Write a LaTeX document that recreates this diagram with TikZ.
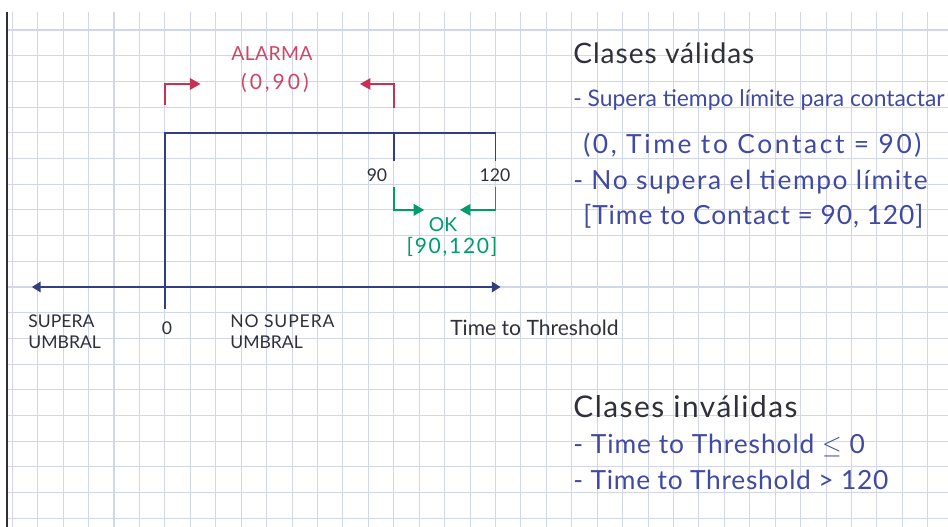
\documentclass[tikz,border=0pt]{standalone}
\usepackage{fontspec}
\setmainfont{Lato}
\usepackage{tikz}
\usetikzlibrary{arrows.meta}
\definecolor{gridink}{RGB}{210,214,234}
\definecolor{axisink}{RGB}{52,60,130}
\definecolor{alarmink}{RGB}{198,50,84}
\definecolor{okink}{RGB}{0,156,108}
\definecolor{noteink}{RGB}{64,74,162}
\definecolor{pencil}{RGB}{48,48,58}
\newcommand{\hand}[2][0]{\fontsize{#2}{#2}\selectfont\addfontfeature{LetterSpace=#1}}

\tikzset{
  gridline/.style={gridink,line width=0.6pt},
  axisline/.style={axisink,line width=1pt},
  alarmarrow/.style={alarmink,line width=1.1pt,-{Triangle[length=6pt,width=6.5pt]}},
  okarrow/.style={okink,line width=1.1pt,-{Triangle[length=6pt,width=6.5pt]}},
  pencillabel/.style={pencil,inner sep=0pt},
  notelabel/.style={noteink,inner sep=0pt,anchor=west}
}

\begin{document}
\begin{tikzpicture}[x=0.5086cm,y=0.514cm]

\useasboundingbox (-0.484,1.167) rectangle (36.796,-19.339);
\fill[white] (-0.484,1.167) rectangle (36.796,-19.339);
\foreach \x in {0,...,36} \draw[gridline] (\x,0.7) -- (\x,-19.339);
\foreach \y in {0,...,19} \draw[gridline] (-0.21,-\y) -- (36.796,-\y);
\draw[pencil,line width=1.3pt] (-0.21,0.7) -- (-0.21,-19.339);

\coordinate (axl) at (0.77,-10);
\coordinate (axr) at (19.2,-10);
\coordinate (t0) at (6,-4);
\coordinate (t0b) at (6,-10.85);
\coordinate (t90) at (15,-4);
\coordinate (t90b) at (15,-5.1);
\coordinate (t120) at (19,-4);
\coordinate (t120b) at (19,-5.1);
\draw[axisline,{Triangle[length=5pt,width=6pt]}-{Triangle[length=5pt,width=6pt]}] (axl) -- (axr);
\draw[axisline] (t0b) -- (t0) -- (t120) -- (t120b);
\draw[axisline] (t90) -- (t90b);

\node[pencillabel] (n90) at (14.34,-5.64) {\hand{10}90};
\node[pencillabel] (n120) at (18.98,-5.64) {\hand{10}120};

\node[alarmink!90,inner sep=0pt] (alarma) at (10.21,-0.93) {\hand[2]{11}ALARMA};
\node[alarmink!90,inner sep=0pt] (alarmarange) at (10.33,-2.06) {\hand[14]{12}(0,90)};
\coordinate (a0) at (6,-2.9);
\coordinate (a0tip) at (7.4,-2.1);
\coordinate (a90) at (15,-3.03);
\coordinate (a90tip) at (13.67,-2.1);
\draw[alarmarrow] (a0) |- (a0tip);
\draw[alarmarrow] (a90) |- (a90tip);

\node[okink,inner sep=0pt] (ok) at (16.94,-7.59) {\hand{11}OK};
\node[okink,inner sep=0pt] (okrange) at (17.29,-8.44) {\hand[8]{12}[90,120]};
\coordinate (k90) at (15,-6.1);
\coordinate (k90tip) at (16.2,-7);
\coordinate (k120) at (19,-6.1);
\coordinate (k120tip) at (17.6,-7);
\draw[okarrow] (k90) |- (k90tip);
\draw[okarrow] (k120) |- (k120tip);

\node[pencillabel,anchor=west,align=left] (supera) at (0.62,-11.73) {\hand{10}SUPERA\\UMBRAL};
\node[pencillabel] (zero) at (6.08,-11.6) {\hand{10}0};
\node[pencillabel,anchor=west,align=left] (nosupera) at (8.56,-11.73) {\hand[5]{10}NO SUPERA\\UMBRAL};
\node[pencillabel,anchor=west] (ttt) at (17.21,-11.6) {\hand{12}Time to Threshold};

\node[pencillabel,anchor=west] (validas) at (22.05,-0.9) {\hand[3.5]{16}Clases válidas};
\node[notelabel] (v1) at (22.05,-2.72) {\hand{13}- Supera tiempo límite para contactar};
\node[notelabel] (v1b) at (22.44,-4.47) {\hand[10]{15}(0, Time to Contact = 90)};
\node[notelabel] (v2) at (22.05,-5.91) {\hand[6]{15}- No supera el tiempo límite};
\node[notelabel] (v2b) at (22.44,-7.24) {\hand[3.5]{15}[Time to Contact = 90, 120]};

\node[pencillabel,anchor=west] (invalidas) at (22.05,-14.67) {\hand[5]{17}Clases inválidas};
\node[notelabel] (i1) at (22.05,-16.15) {\hand[3.6]{15}- Time to Threshold $\leq$ 0};
\node[notelabel] (i2) at (22.05,-17.51) {\hand[2.7]{15}- Time to Threshold > 120};

\end{tikzpicture}
\end{document}
